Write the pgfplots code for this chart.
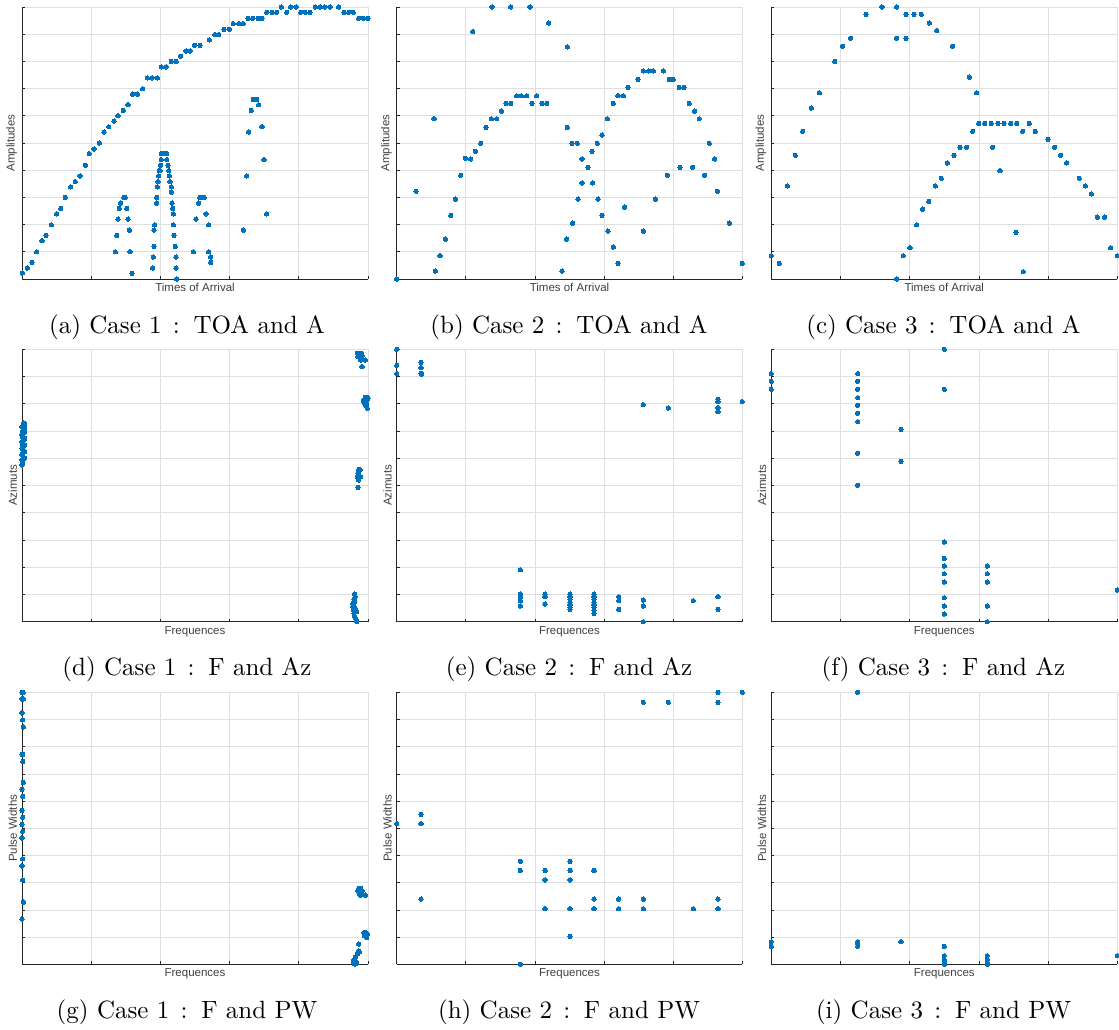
\documentclass[border=0pt]{standalone}
\usepackage{pgfplots}
\pgfplotsset{compat=1.18}
\usepackage{fontspec}
\newfontfamily\lab{Liberation Sans}
\font\capfont="[lmroman10-regular]" at 25pt
\newcommand{\cl}{\hskip0.45em:\hskip0.55em}
\definecolor{mblue}{HTML}{0072BD}
\definecolor{axgray}{HTML}{262626}
\definecolor{gridgray}{HTML}{DFDFDF}
\definecolor{labgray}{HTML}{404040}
\pgfplotsset{
  panel/.style={
    scale only axis, width=346pt, height=272pt,
    axis x line*=bottom, axis y line*=left,
    axis line style={draw=axgray, line width=0.8pt},
    xtick pos=left, ytick pos=left,
    tick align=inside, major tick length=3pt,
    tick style={draw=axgray, line width=0.8pt},
    xticklabels={}, yticklabels={},
    grid=major, grid style={draw=gridgray, line width=0.8pt},
    ymin=0,
    xlabel style={at={(axis description cs:0.5,-0.016)}, anchor=north, inner sep=0pt, font=\lab\fontsize{11.5}{13}\selectfont, text=labgray},
    ylabel style={at={(axis description cs:-0.014,0.5)}, anchor=south, inner sep=0pt, font=\lab\fontsize{11.5}{13}\selectfont, text=labgray},
  },
  colA/.style={xmin=66, xmax=1104, xtick={66,273.6,481.2,688.8,896.4,1104}},
  colB/.style={xmin=50, xmax=1087, xtick={50,257.4,464.8,672.2,879.6,1087}},
  colC/.style={xmin=34, xmax=1072, xtick={34,241.6,449.2,656.8,864.4,1072}},
  rowA/.style={ymax=818, ytick={0,81.8,163.6,245.4,327.2,409,490.8,572.6,654.4,736.2,818}},
  rowB/.style={ymax=817, ytick={0,81.7,163.4,245.1,326.8,408.5,490.2,571.9,653.6,735.3,817}},
  pts/.style={only marks, mark=*, mark size=2.2pt, color=mblue, mark options={fill=mblue, draw=mblue, line width=0pt}},
}
\begin{document}
\begin{tikzpicture}
\useasboundingbox (0pt,0pt) rectangle (1119pt,1029pt);
% ---------- Row 1 ----------
\begin{axis}[panel, colA, rowA, at={(22pt,750pt)}, anchor=south west, xlabel={Times of Arrival}, ylabel={Amplitudes}]
\addplot[pts] coordinates {
(67,18) (82,33) (96,50) (110,82) (126,115) (138,131) (154,163) (170,196) (182,212) (196,245) (212,277) (226,293) (240,310) (256,342) (268,377) (282,391) (298,409) (312,442) (326,458) (342,475) (354,491) (370,507) (384,524) (398,556) (412,556) (428,572) (442,605) (456,605) (472,605) (484,638) (498,638) (514,654) (528,654) (542,670) (558,686) (570,686) (584,703) (600,703) (628,719) (644,735) (656,735) (672,751) (688,751) (700,768) (716,768) (730,768) (744,784) (758,784) (774,784) (786,784) (800,802) (816,802) (830,802) (844,818) (860,802) (872,818) (888,818) (902,802) (916,802) (930,802) (946,818) (960,818) (974,818) (990,818) (1016,818) (1032,802) (1046,802) (1060,802) (1076,784) (1090,784) (1104,784)
(346,82) (350,131) (354,180) (358,212) (362,228) (372,245) (376,245) (380,212) (384,180) (388,147) (390,82) (396,17)
(458,33) (460,66) (462,98) (462,147) (464,163) (470,228) (470,245) (472,277) (474,293) (476,310) (478,326) (480,326) (482,342) (484,359) (484,377) (488,377) (492,377) (496,377) (500,377) (500,359) (504,342) (506,326) (508,310) (510,293) (514,277) (514,261) (516,228) (518,212) (520,196) (520,163) (522,131) (526,98) (528,66) (528,33) (530,0)
(580,82) (588,180) (596,228) (600,245) (606,245) (612,245) (618,196) (626,163) (626,82) (632,66) (632,50)
(730,147) (740,310) (746,442) (754,507) (760,540) (766,540) (770,540) (776,524) (786,458) (792,359) (800,196)
};
\end{axis}
\begin{axis}[panel, colB, rowA, at={(396.7pt,750pt)}, anchor=south west, width=345.6pt, xlabel={Times of Arrival}, ylabel={Amplitudes}]
\addplot[pts] coordinates {
(50,0) (108,264) (162,482) (166,24) (180,70) (196,120) (212,191) (226,240) (242,312) (256,363) (272,361) (278,744) (286,384) (302,408) (318,456) (334,482) (336,818) (350,482) (364,505) (378,528) (392,528) (392,818) (410,551) (424,551) (440,551) (450,818) (456,528) (470,551) (486,528) (500,528) (506,770) (546,24) (560,120) (562,456) (562,698) (576,408) (578,168) (592,408) (594,240) (606,361) (606,289) (624,336) (636,384) (638,289) (652,408) (654,240) (666,433) (666,191) (682,482) (684,144) (700,528) (700,96) (714,551) (714,47) (730,551) (734,216) (744,576) (774,600) (790,626) (790,144) (806,626) (820,626) (826,240) (850,626) (862,312) (868,600) (880,600) (898,576) (900,336) (912,576) (928,528) (938,336) (944,505) (958,482) (974,312) (988,408) (1004,361) (1012,264) (1048,168) (1087,47)
};
\end{axis}
\begin{axis}[panel, colC, rowA, at={(771.3pt,750pt)}, anchor=south west, xlabel={Times of Arrival}, ylabel={Amplitudes}]
\addplot[pts] coordinates {
(34,70) (58,47) (82,280) (106,372) (128,444) (154,514) (178,560) (224,654) (248,700) (272,724) (318,796) (366,818) (410,818) (410,724) (410,0) (430,70) (438,796) (438,724) (450,94) (462,796) (470,163) (484,796) (488,210) (506,233) (508,770) (526,280) (530,747) (544,303) (562,349) (578,700) (582,372) (600,396) (620,396) (628,607) (638,444) (650,560) (656,468) (674,468) (694,468) (698,396) (714,468) (720,326) (732,468) (752,468) (768,140) (770,468) (788,444) (790,22) (808,468) (826,444) (864,420) (884,396) (902,372) (920,349) (958,303) (976,280) (994,256) (1012,186) (1034,186) (1052,94) (1072,70)
};
\end{axis}
% ---------- Row 2 ----------
\begin{axis}[panel, colA, rowB, at={(22pt,407.3pt)}, anchor=south west, height=272.4pt, xlabel={Frequences}, ylabel={Azimuts}]
\addplot[pts] coordinates {
(66,470) (68,478) (66,486) (70,492) (66,500) (68,506) (72,512) (66,520) (70,526) (68,532) (66,540) (72,546) (68,552) (66,560) (70,566) (68,572) (72,578) (66,584) (70,590) (74,588) (74,570) (74,550) (74,530) (74,510) (74,490) (62,500) (62,530) (62,560) (64,480) (64,580) (72,596)
(1076,820) (1072,805) (1078,800) (1084,805) (1086,797) (1074,795) (1080,790) (1082,785) (1096,785) (1086,765)
(1096,673) (1100,673) (1104,670) (1090,663) (1096,660) (1100,655) (1098,647) (1102,640) (1094,655)
(1076,457) (1080,455) (1074,445) (1078,437) (1072,433) (1082,435) (1076,425) (1074,403)
(1064,83) (1066,75) (1062,67) (1064,59) (1060,50) (1058,45) (1066,40) (1070,30) (1062,25) (1064,15) (1068,7) (1070,0) (1060,35) (1058,55)
};
\end{axis}
\begin{axis}[panel, colB, rowB, at={(396.7pt,407.3pt)}, anchor=south west, width=345.6pt, height=272.4pt, xlabel={Frequences}, ylabel={Azimuts}]
\addplot[pts] coordinates {
(50,817) (50,769) (50,744) (123,778) (123,762) (123,745) (125,742)
(790,651) (865,641) (1014,667) (1014,660) (1014,642) (1014,630) (1087,660)
(421,156) (421,83) (421,75) (421,63) (421,47)
(495,83) (495,75) (495,53)
(570,83) (570,75) (570,67) (570,59) (570,51) (570,43) (570,37)
(642,83) (642,75) (642,67) (642,59) (642,51) (642,43) (642,35) (642,25)
(716,75) (716,63) (716,37)
(790,65) (790,47) (790,0)
(940,63) (1014,75) (1014,37)
};
\end{axis}
\begin{axis}[panel, colC, rowB, at={(771.3pt,407.3pt)}, anchor=south west, height=272.4pt, xlabel={Frequences}, ylabel={Azimuts}]
\addplot[pts] coordinates {
(34,744) (34,721) (34,697)
(293,744) (293,721) (293,697) (293,672) (293,649) (293,625) (293,600) (293,505) (293,409)
(423,577) (423,481)
(553,817) (553,697) (553,239) (553,190) (553,167) (553,144) (553,119) (553,72) (553,47) (553,23)
(682,167) (682,144) (682,119) (682,47) (682,0)
(1072,95)
};
\end{axis}
% ---------- Row 3 ----------
\begin{axis}[panel, colA, rowA, at={(22pt,64.7pt)}, anchor=south west, xlabel={Frequences}, ylabel={Pulse Widths}]
\addplot[pts] coordinates {
(66,818) (68,818) (70,818) (66,798) (68,798) (70,798) (66,756) (68,735) (70,714) (66,631) (68,631) (68,610) (70,547) (66,526) (68,505) (66,463) (68,442) (66,421) (68,400) (66,380) (68,317) (66,296) (68,254) (70,187) (66,136)
(1076,228) (1082,228) (1074,221) (1080,221) (1086,221) (1078,213) (1082,208) (1096,208)
(1092,95) (1098,95) (1102,91) (1094,85) (1100,81) (1106,81)
(1076,61) (1076,41) (1078,37) (1072,31) (1066,21) (1062,13) (1068,8) (1060,5) (1064,1) (1070,3)
};
\end{axis}
\begin{axis}[panel, colB, rowA, at={(396.7pt,64.7pt)}, anchor=south west, width=345.6pt, xlabel={Frequences}, ylabel={Pulse Widths}]
\addplot[pts] coordinates {
(50,423) (123,451) (123,423) (123,196)
(421,310) (421,282) (421,0)
(495,282) (495,254) (495,167)
(570,310) (570,282) (570,254) (570,167) (570,84)
(642,282) (642,196) (642,167)
(716,196) (716,167)
(790,788) (790,196) (790,167)
(865,788)
(940,167)
(1014,818) (1014,788) (1014,196) (1014,167)
(1087,818)
};
\end{axis}
\begin{axis}[panel, colC, rowA, at={(771.3pt,64.7pt)}, anchor=south west, xlabel={Frequences}, ylabel={Pulse Widths}]
\addplot[pts] coordinates {
(34,68) (34,54)
(293,818) (293,68) (293,63) (293,54)
(423,68)
(553,54) (553,26) (553,13) (553,5) (553,0)
(682,26) (682,15) (682,5) (682,0)
(1072,26)
};
\end{axis}
% ---------- Captions ----------
\node[anchor=base, inner sep=0pt, font=\capfont] at (187pt,695.7pt) {(a) Case 1\cl TOA and A};
\node[anchor=base, inner sep=0pt, font=\capfont] at (569pt,695.7pt) {(b) Case 2\cl TOA and A};
\node[anchor=base, inner sep=0pt, font=\capfont] at (943.5pt,695.7pt) {(c) Case 3\cl TOA and A};
\node[anchor=base, inner sep=0pt, font=\capfont] at (187pt,353.2pt) {(d) Case 1\cl F and Az};
\node[anchor=base, inner sep=0pt, font=\capfont] at (569pt,353.2pt) {(e) Case 2\cl F and Az};
\node[anchor=base, inner sep=0pt, font=\capfont] at (943.5pt,353.2pt) {(f) Case 3\cl F and Az};
\node[anchor=base, inner sep=0pt, font=\capfont] at (187pt,10.7pt) {(g) Case 1\cl F and PW};
\node[anchor=base, inner sep=0pt, font=\capfont] at (569pt,10.7pt) {(h) Case 2\cl F and PW};
\node[anchor=base, inner sep=0pt, font=\capfont] at (943.5pt,10.7pt) {(i) Case 3\cl F and PW};
\end{tikzpicture}
\end{document}
